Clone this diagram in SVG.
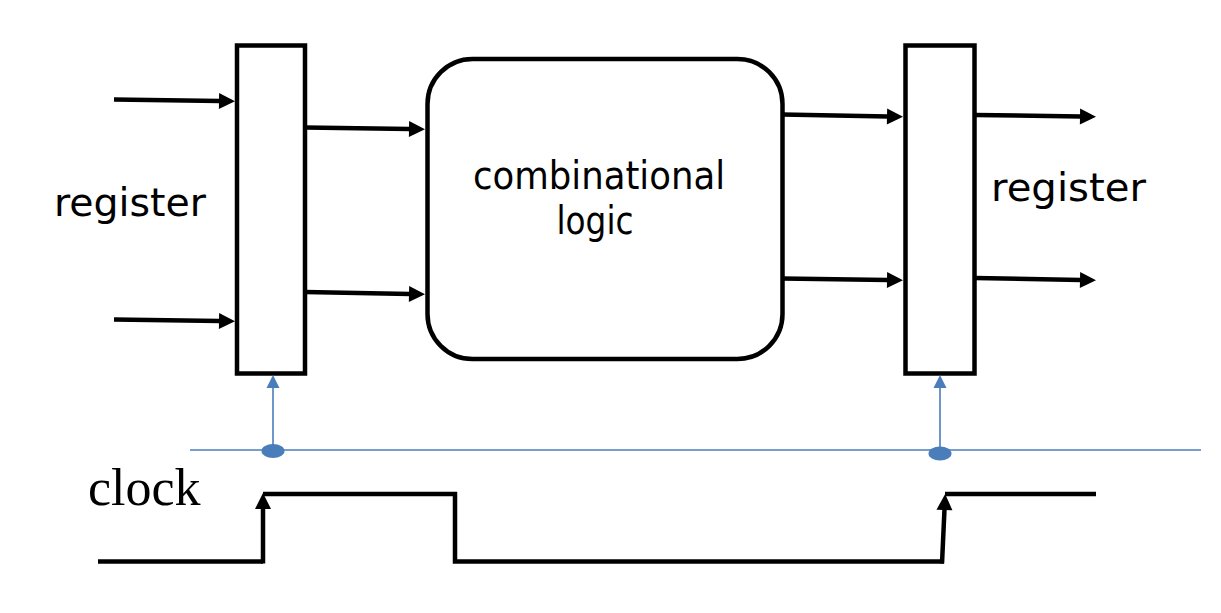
<svg xmlns="http://www.w3.org/2000/svg" width="1221" height="613" viewBox="0 0 1221 613">
<style>
.box{fill:#fff;stroke:#000;stroke-width:4.5}
.wire{fill:none;stroke:#000;stroke-width:4.5}
.clk{fill:none;stroke:#4a7ebb;stroke-width:1.6}
.lbl{font-family:"Comic Sans MS","DejaVu Sans",sans-serif;font-size:39px;fill:#000}
.ser{font-family:"Liberation Serif","Times New Roman",serif;font-size:52px;fill:#000}
</style>
<defs>
<marker id="ah" markerUnits="userSpaceOnUse" markerWidth="18" markerHeight="18" refX="1" refY="8" orient="auto" overflow="visible">
<path d="M0,0 L16,8 L0,16 z" fill="#000"/>
</marker>
<marker id="bh" markerUnits="userSpaceOnUse" markerWidth="14" markerHeight="13" refX="1" refY="6.5" orient="auto" overflow="visible">
<path d="M0,0 L13,6.5 L0,13 z" fill="#4a7ebb"/>
</marker>
</defs>
<g id="register-left">
<rect class="box" x="237" y="45.5" width="68" height="328"/>
<text class="lbl" x="54" y="216" textLength="152" lengthAdjust="spacingAndGlyphs">register</text>
</g>
<g id="combinational-logic">
<rect class="box" x="427.5" y="59" width="355" height="300" rx="45" ry="45"/>
<text class="lbl" x="599" y="189" text-anchor="middle" textLength="252" lengthAdjust="spacingAndGlyphs">combinational</text>
<text class="lbl" x="595" y="234" text-anchor="middle" textLength="77" lengthAdjust="spacingAndGlyphs">logic</text>
</g>
<g id="register-right">
<rect class="box" x="905.5" y="45.5" width="69" height="328"/>
<text class="lbl" x="991" y="201" textLength="155" lengthAdjust="spacingAndGlyphs">register</text>
</g>
<g id="clock">
<text class="ser" x="88" y="505">clock</text>
<line class="clk" x1="190" y1="450" x2="1201" y2="450"/>
<ellipse cx="273" cy="451" rx="11.5" ry="7" fill="#4a7ebb"/>
<ellipse cx="940" cy="453.5" rx="11.5" ry="7" fill="#4a7ebb"/>
<polyline class="wire" points="98,561.5 263,561.5"/>
<polyline class="wire" points="263,494 455,494 455,561.5 944,561.5"/>
<line class="wire" x1="945" y1="494" x2="1096" y2="494"/>
</g>
<g id="connectors">
<line class="wire" x1="114" y1="99.5" x2="220" y2="101" marker-end="url(#ah)"/>
<line class="wire" x1="114" y1="319.5" x2="220" y2="321" marker-end="url(#ah)"/>
<line class="wire" x1="305" y1="127.5" x2="410" y2="129" marker-end="url(#ah)"/>
<line class="wire" x1="305" y1="292" x2="410" y2="294" marker-end="url(#ah)"/>
<line class="wire" x1="782" y1="114.5" x2="888" y2="116.5" marker-end="url(#ah)"/>
<line class="wire" x1="782" y1="278.5" x2="888" y2="280" marker-end="url(#ah)"/>
<line class="wire" x1="975" y1="115" x2="1081" y2="116.5" marker-end="url(#ah)"/>
<line class="wire" x1="975" y1="278" x2="1081" y2="280" marker-end="url(#ah)"/>
<line class="clk" x1="273" y1="450" x2="273" y2="387" marker-end="url(#bh)"/>
<line class="clk" x1="940" y1="452" x2="940" y2="387" marker-end="url(#bh)"/>
<line class="wire" x1="263" y1="563.5" x2="263" y2="508" stroke-width="5" marker-end="url(#ah)"/>
<line class="wire" x1="942" y1="563.5" x2="944.5" y2="509" stroke-width="6" marker-end="url(#ah)"/>
</g>
</svg>
